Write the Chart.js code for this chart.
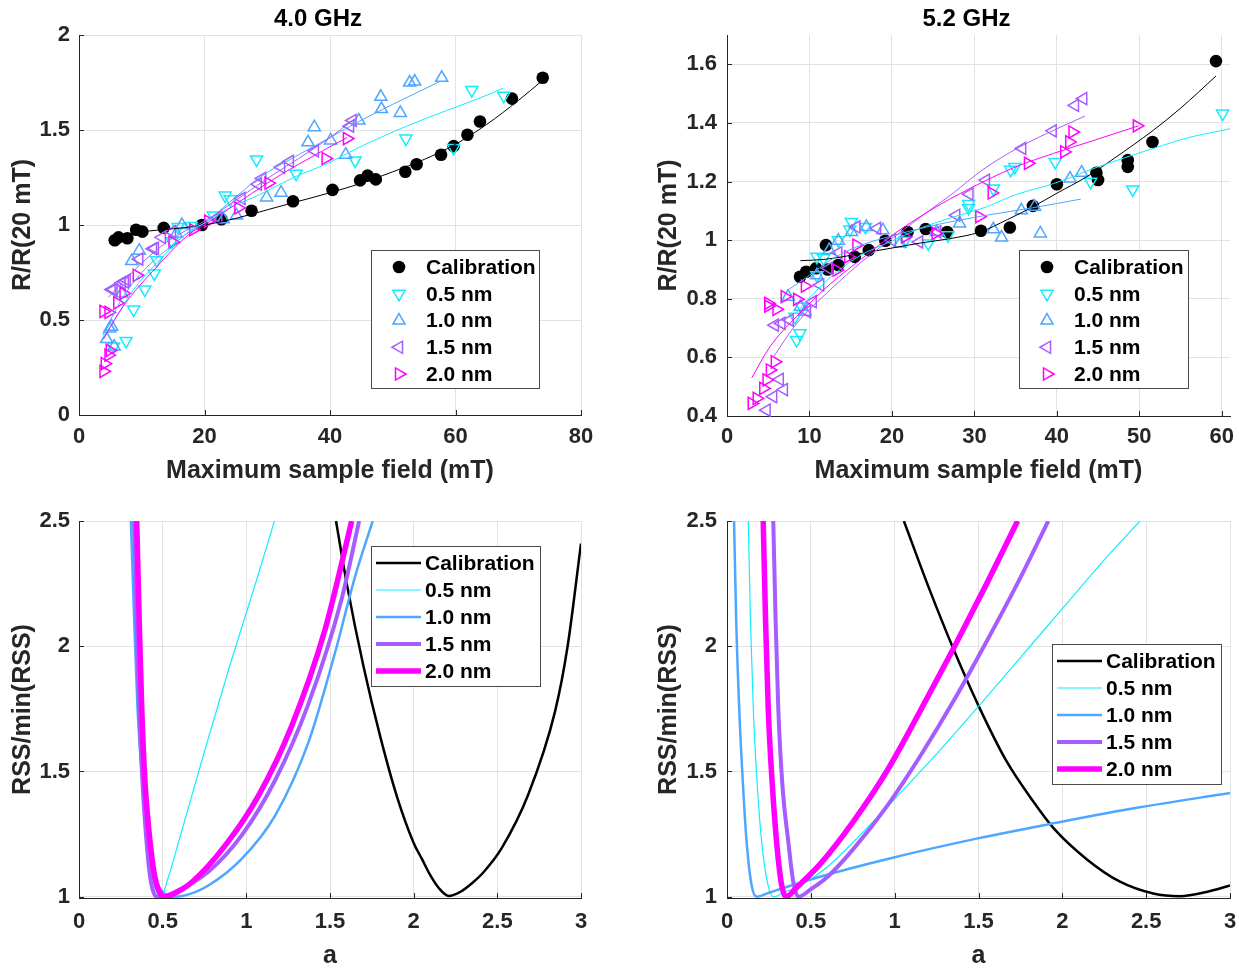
<!DOCTYPE html>
<html>
<head>
<meta charset="utf-8">
<title>R/R(20 mT) and RSS/min(RSS)</title>
<script src="https://cdn.jsdelivr.net/npm/chart.js@4.4.0/dist/chart.umd.min.js"></script>
<style>
  html, body { margin: 0; padding: 0; background: #fff; }
  #page { position: relative; width: 1239px; height: 971px; overflow: hidden; background: #fff; }
  #page canvas { position: absolute; }
</style>
</head>
<body>
<div id="page">
  <canvas id="fit40" width="620" height="490" style="left:0;top:0"></canvas>
  <canvas id="fit52" width="615" height="490" style="left:640px;top:0"></canvas>
  <canvas id="rss40" width="620" height="481" style="left:0;top:490px"></canvas>
  <canvas id="rss52" width="615" height="481" style="left:640px;top:490px"></canvas>
</div>
<script>
// --- data: [field (mT), R/R(20 mT)] ---
const seriesLabels = ['Calibration', '0.5 nm', '1.0 nm', '1.5 nm', '2.0 nm'];

// 4.0 GHz measured points
const cal40 = [[5.7,0.92],[6.3,0.935],[7.7,0.93],[9.1,0.975],[10.1,0.965],[13.5,0.985],[19.6,1.0],[22.7,1.03],[27.5,1.075],[34.1,1.125],[40.4,1.185],[44.8,1.235],[46.0,1.26],[47.3,1.24],[52.0,1.28],[53.8,1.32],[57.7,1.37],[59.7,1.415],[61.9,1.475],[63.9,1.545],[69.0,1.665],[73.9,1.775]];
const nm05_40 = [[5.5,0.36],[7.5,0.39],[8.7,0.555],[10.5,0.66],[12.0,0.745],[12.4,0.815],[14.8,0.915],[15.8,0.99],[17.9,0.995],[21.4,1.05],[23.3,1.155],[24.1,1.135],[28.3,1.345],[34.6,1.27],[44.0,1.34],[52.1,1.455],[59.7,1.405],[62.6,1.71],[67.7,1.68]];
const nm10_40 = [[4.4,0.40],[4.9,0.455],[5.2,0.465],[5.6,0.36],[6.8,0.64],[8.4,0.81],[9.6,0.865],[15.5,0.955],[16.4,1.0],[23.0,1.03],[25.1,1.05],[29.9,1.145],[32.2,1.17],[36.5,1.435],[37.5,1.515],[40.1,1.445],[42.5,1.37],[44.6,1.55],[48.1,1.675],[48.2,1.61],[51.2,1.59],[52.7,1.75],[53.5,1.755],[57.8,1.775]];
const nm15_40 = [[5.2,0.66],[5.5,0.66],[6.8,0.695],[7.3,0.70],[7.6,0.71],[9.6,0.82],[11.8,0.875],[12.1,0.877],[13.2,0.935],[14.8,0.965],[22.2,1.04],[25.9,1.14],[28.5,1.215],[29.2,1.245],[32.2,1.305],[33.6,1.335],[37.6,1.39],[43.2,1.52],[43.6,1.55]];
const nm20_40 = [[3.9,0.545],[4.7,0.54],[3.9,0.23],[4.1,0.27],[4.7,0.315],[4.9,0.34],[6.1,0.59],[7.1,0.64],[9.2,0.735],[14.9,0.91],[18.2,0.975],[20.6,1.02],[25.4,1.09],[30.2,1.22],[39.3,1.35],[42.7,1.455]];

// 4.0 GHz fitted curves
const cal40Fit = [[6,0.945],[10,0.965],[15,0.98],[20,1.0],[25,1.035],[30,1.08],[35,1.125],[40,1.17],[45,1.22],[50,1.28],[55,1.345],[60,1.425],[65,1.53],[70,1.655],[74,1.765]];
const nm05_40Fit = [[3.9,0.41],[6,0.52],[8.7,0.66],[12.4,0.8],[17.7,0.97],[20,1.01],[24,1.09],[28.8,1.16],[34.2,1.25],[40,1.33],[44.1,1.4],[52.2,1.52],[60,1.62],[65.5,1.69],[67.6,1.72]];
const nm10_40Fit = [[3.8,0.42],[5,0.5],[7,0.62],[10,0.75],[14,0.87],[17,0.95],[20,1.01],[24,1.12],[28.8,1.25],[35,1.37],[40,1.46],[44.6,1.545],[50,1.635],[57.5,1.755]];
const nm15_40Fit = [[4.7,0.62],[7,0.7],[10,0.8],[14,0.91],[17,0.97],[20,1.02],[25,1.13],[30,1.245],[35,1.35],[40,1.46],[44,1.56]];
const nm20_40Fit = [[3.9,0.40],[7,0.57],[12.4,0.78],[17.7,0.955],[20,1.0],[25,1.11],[30,1.22],[35,1.32],[42.7,1.46]];

// 5.2 GHz measured points
const cal52 = [[8.85,0.875],[9.6,0.892],[10.8,0.904],[12.0,0.983],[12.2,0.9],[13.5,0.915],[15.5,0.943],[17.2,0.966],[19.2,0.998],[21.9,1.028],[24.1,1.038],[26.7,1.028],[30.8,1.032],[34.3,1.043],[37.1,1.117],[40.0,1.191],[44.8,1.23],[45.0,1.205],[48.6,1.273],[48.6,1.25],[51.6,1.335],[59.3,1.611]];
const nm05_52 = [[8.24,0.739],[8.45,0.659],[8.85,0.682],[9.05,0.773],[10.9,0.943],[10.9,0.88],[11.7,0.938],[13.5,1.0],[14.9,1.036],[15.1,1.062],[16.8,1.045],[21.6,0.998],[24.4,0.989],[26.8,1.017],[29.3,1.11],[29.3,1.123],[32.3,1.176],[34.4,1.24],[34.9,1.25],[39.8,1.267],[44.1,1.199],[49.2,1.173],[60.1,1.432]];
const nm10_52 = [[7.4,0.807],[8.9,0.773],[9.45,0.756],[10.9,0.88],[12.4,0.966],[13.5,0.998],[15.1,1.028],[16.9,1.045],[18.9,1.034],[21.0,0.989],[25.4,1.028],[28.2,1.057],[32.3,1.037],[33.3,1.009],[35.7,1.102],[37.3,1.114],[38.0,1.023],[41.6,1.21],[43.0,1.23]];
const nm15_52 = [[4.8,0.42],[5.6,0.466],[6.4,0.525],[6.9,0.49],[5.8,0.71],[6.6,0.716],[7.6,0.727],[9.7,0.756],[10.4,0.79],[11.3,0.847],[12.3,0.904],[13.5,0.957],[15.7,1.045],[18.2,1.04],[20.0,1.0],[23.3,0.994],[25.5,1.028],[27.8,1.085],[29.4,1.157],[31.4,1.205],[35.8,1.313],[39.5,1.373],[42.2,1.46],[43.2,1.483]];
const nm20_52 = [[3.0,0.443],[3.6,0.46],[4.4,0.494],[4.8,0.523],[5.2,0.557],[5.8,0.585],[5.0,0.775],[5.0,0.784],[6.0,0.764],[7.0,0.807],[8.5,0.798],[9.45,0.843],[13.3,0.898],[14.7,0.943],[15.7,0.983],[21.6,1.011],[25.3,1.023],[30.6,1.08],[32.1,1.161],[36.5,1.262],[40.9,1.301],[41.5,1.335],[41.9,1.369],[49.7,1.39]];

// 5.2 GHz fitted curves
const cal52Fit = [[8.9,0.93],[12,0.935],[17.3,0.96],[20,0.973],[23.4,0.99],[27,1.005],[30.7,1.028],[34,1.07],[37.1,1.114],[40,1.16],[43.6,1.216],[47,1.28],[51.7,1.375],[55,1.45],[59.3,1.56]];
const nm05_52Fit = [[8.3,0.75],[12,0.86],[16,0.945],[20,0.997],[23.4,1.04],[27,1.075],[31.5,1.114],[35,1.155],[39.6,1.193],[45,1.25],[51.7,1.313],[56,1.35],[61,1.38]];
const nm10_52Fit = [[7.4,0.83],[10,0.88],[13,0.94],[16,0.98],[19.4,1.01],[25,1.05],[31.5,1.085],[37,1.11],[42.9,1.14]];
const nm15_52Fit = [[5.6,0.6],[8.45,0.716],[12.5,0.83],[16.5,0.93],[20.2,1.01],[24,1.09],[27.4,1.16],[31,1.24],[35.5,1.318],[40,1.38],[43.4,1.423]];
const nm20_52Fit = [[3,0.53],[5.2,0.636],[8.45,0.74],[12.5,0.85],[16.5,0.94],[20.2,1.02],[23.4,1.08],[27,1.14],[31.5,1.205],[35,1.25],[39.6,1.296],[45,1.345],[49.9,1.39]];

// RSS/min(RSS) against a: [a, RSS/min]
const calRss40 = [[1.536,2.5],[1.6,2.25],[1.7,1.92],[1.8,1.64],[1.9,1.4],[2.0,1.215],[2.05,1.15],[2.1,1.085],[2.15,1.035],[2.21,1.003],[2.28,1.02],[2.35,1.055],[2.42,1.1],[2.527,1.195],[2.686,1.41],[2.845,1.74],[2.92,2.0],[3.0,2.41]];
const nm05Rss40 = [[0.32,2.5],[0.34,2.1],[0.36,1.75],[0.385,1.45],[0.41,1.22],[0.44,1.07],[0.47,1.01],[0.49,1.0],[0.53,1.07],[0.6,1.23],[0.75,1.58],[0.9,1.92],[1.05,2.24],[1.168,2.5]];
const nm10Rss40 = [[0.31,2.5],[0.33,2.1],[0.35,1.75],[0.38,1.45],[0.41,1.25],[0.45,1.08],[0.5,1.02],[0.56,1.0],[0.62,1.003],[0.773,1.045],[0.972,1.151],[1.172,1.324],[1.371,1.616],[1.53,1.974],[1.65,2.279],[1.755,2.5]];
const nm15Rss40 = [[0.33,2.5],[0.345,2.1],[0.36,1.75],[0.38,1.45],[0.40,1.25],[0.425,1.08],[0.45,1.01],[0.47,1.0],[0.52,1.005],[0.574,1.019],[0.773,1.1],[0.972,1.245],[1.172,1.465],[1.371,1.77],[1.57,2.19],[1.674,2.5]];
const nm20Rss40 = [[0.345,2.5],[0.36,2.1],[0.375,1.75],[0.395,1.45],[0.42,1.25],[0.45,1.09],[0.48,1.02],[0.51,1.0],[0.56,1.01],[0.674,1.058],[0.873,1.204],[1.072,1.403],[1.271,1.682],[1.47,2.066],[1.63,2.5]];

const calRss52 = [[1.055,2.5],[1.2,2.24],[1.35,1.99],[1.509,1.75],[1.668,1.54],[1.827,1.38],[1.946,1.275],[2.145,1.15],[2.344,1.06],[2.542,1.013],[2.701,1.002],[2.86,1.019],[3.0,1.045]];
const nm05Rss52 = [[0.127,2.5],[0.14,2.1],[0.157,1.748],[0.18,1.45],[0.207,1.218],[0.24,1.06],[0.276,1.0],[0.35,1.02],[0.45,1.05],[0.6,1.12],[0.8,1.25],[1.0,1.39],[1.25,1.57],[1.5,1.76],[1.75,1.955],[2.0,2.15],[2.25,2.345],[2.463,2.5]];
const nm10Rss52 = [[0.042,2.5],[0.055,2.1],[0.073,1.748],[0.095,1.45],[0.117,1.218],[0.147,1.045],[0.177,1.0],[0.25,1.016],[0.555,1.08],[0.952,1.15],[1.509,1.235],[1.946,1.293],[2.443,1.355],[3.0,1.414]];
const nm15Rss52 = [[0.276,2.5],[0.29,2.1],[0.306,1.748],[0.33,1.45],[0.366,1.218],[0.395,1.06],[0.425,1.0],[0.5,1.03],[0.6,1.08],[0.753,1.19],[0.952,1.36],[1.151,1.56],[1.35,1.78],[1.549,2.02],[1.747,2.27],[1.916,2.5]];
const nm20Rss52 = [[0.216,2.5],[0.23,2.1],[0.246,1.748],[0.27,1.45],[0.296,1.218],[0.325,1.05],[0.352,1.0],[0.42,1.04],[0.555,1.13],[0.753,1.3],[0.952,1.5],[1.151,1.74],[1.35,1.99],[1.549,2.25],[1.733,2.5]];

// tick labels
const fieldTicks40 = [0, 20, 40, 60, 80];
const ratioTicks40 = [0, 0.5, 1, 1.5, 2];
const fieldTicks52 = [0, 10, 20, 30, 40, 50, 60];
const ratioTicks52 = [0.4, 0.6, 0.8, 1, 1.2, 1.4, 1.6];
const aTicks = [0, 0.5, 1, 1.5, 2, 2.5, 3];
const rssTicks = [1, 1.5, 2, 2.5];

// --- styling ---
const FONT = '"Liberation Sans", Arial, Helvetica, sans-serif';
const INK = '#262626';
const GRID = '#e2e2e2';
const COLORS = ['#000000', '#12ecff', '#4da6ff', '#a65cff', '#ff00ff'];
const MARKERS = [
    { style: 'circle', rot: 0, r: 6.3, filled: true },
    { style: 'triangle', rot: 180, r: 7 },
    { style: 'triangle', rot: 0, r: 7 },
    { style: 'triangle', rot: 270, r: 7 },
    { style: 'triangle', rot: 90, r: 7 }
];
const RSS_WIDTHS = [2.5, 1.2, 2.5, 4, 5.5];

Chart.defaults.font.family = FONT;
Chart.defaults.font.weight = 'bold';
Chart.defaults.color = INK;

const xy = pts => pts.map(([x, y]) => ({ x, y }));

function markerSet(points, i) {
    const m = MARKERS[i];
    return {
        label: seriesLabels[i],
        data: xy(points),
        showLine: false,
        clip: false,
        pointStyle: m.style,
        pointRotation: m.rot,
        pointRadius: m.r,
        pointHoverRadius: m.r,
        pointBackgroundColor: m.filled ? COLORS[i] : 'rgba(0,0,0,0)',
        pointBorderColor: COLORS[i],
        pointBorderWidth: m.filled ? 0 : 1.5,
        order: 20 - i
    };
}

function fitSet(points, i) {
    return {
        label: seriesLabels[i] + ' fit',
        data: xy(points),
        showLine: true,
        borderColor: COLORS[i],
        borderWidth: 1,
        pointRadius: 0,
        cubicInterpolationMode: 'monotone',
        order: 10 - i
    };
}

function rssSet(points, i) {
    return {
        label: seriesLabels[i],
        data: xy(points),
        showLine: true,
        borderColor: COLORS[i],
        borderWidth: RSS_WIDTHS[i],
        pointRadius: 0,
        cubicInterpolationMode: 'monotone',
        order: 10 - i
    };
}

function drawMarker(ctx, i, x, y) {
    const m = MARKERS[i];
    ctx.beginPath();
    if (m.filled) {
        ctx.arc(x, y, m.r, 0, Math.PI * 2);
        ctx.fillStyle = COLORS[i];
        ctx.fill();
        return;
    }
    let rad = m.rot * Math.PI / 180;
    for (let k = 0; k < 3; k++) {
        const px = x + Math.sin(rad) * m.r, py = y - Math.cos(rad) * m.r;
        if (k === 0) ctx.moveTo(px, py); else ctx.lineTo(px, py);
        rad += Math.PI * 2 / 3;
    }
    ctx.closePath();
    ctx.strokeStyle = COLORS[i];
    ctx.lineWidth = 1.5;
    ctx.stroke();
}

// legend drawn inside the axes, matlab style
const boxLegend = {
    id: 'boxLegend',
    afterDatasetsDraw(chart, args, opts) {
        const ctx = chart.ctx;
        const [x1, y1, x2, y2] = opts.box;
        ctx.save();
        ctx.fillStyle = '#ffffff';
        ctx.fillRect(x1, y1, x2 - x1, y2 - y1);
        ctx.strokeStyle = '#4a4a4a';
        ctx.lineWidth = 1;
        ctx.strokeRect(x1 + 0.5, y1 + 0.5, x2 - x1, y2 - y1);
        ctx.font = 'bold 21px ' + FONT;
        ctx.textBaseline = 'middle';
        seriesLabels.forEach((label, i) => {
            const y = y1 + opts.first + i * opts.step;
            if (opts.kind === 'line') {
                ctx.beginPath();
                ctx.moveTo(x1 + 5, y);
                ctx.lineTo(x1 + 50, y);
                ctx.strokeStyle = COLORS[i];
                ctx.lineWidth = RSS_WIDTHS[i];
                ctx.stroke();
            } else {
                drawMarker(ctx, i, x1 + 28, y);
            }
            ctx.fillStyle = '#000000';
            ctx.fillText(label, x1 + opts.textX, y + 1);
        });
        ctx.restore();
    }
};

// panel title, centred a little left of the plot box like the original
const panelTitle = {
    id: 'panelTitle',
    afterDraw(chart, args, opts) {
        if (!opts.text) return;
        const { ctx, chartArea: a } = chart;
        ctx.save();
        ctx.font = 'bold 24px ' + FONT;
        ctx.fillStyle = '#000000';
        ctx.textAlign = 'center';
        ctx.textBaseline = 'middle';
        ctx.fillText(opts.text, (a.left + a.right) / 2 + opts.dx, opts.y);
        ctx.restore();
    }
};

// small inward tick marks like the original axes
const inwardTicks = {
    id: 'inwardTicks',
    beforeDatasetsDraw(chart) {
        const { ctx, chartArea: a, scales: { x, y } } = chart;
        ctx.save();
        ctx.strokeStyle = INK;
        ctx.lineWidth = 1;
        ctx.beginPath();
        x.ticks.forEach(t => {
            const px = Math.round(x.getPixelForValue(t.value)) + 0.5;
            ctx.moveTo(px, a.bottom);
            ctx.lineTo(px, a.bottom - 5);
        });
        y.ticks.forEach(t => {
            const py = Math.round(y.getPixelForValue(t.value)) + 0.5;
            ctx.moveTo(a.left, py);
            ctx.lineTo(a.left + 5, py);
        });
        ctx.stroke();
        ctx.restore();
    }
};

function axis(o) {
    return {
        type: 'linear',
        min: o.min,
        max: o.max,
        afterBuildTicks: s => { s.ticks = o.ticks.map(v => ({ value: v })); },
        afterFit: s => {
            if (o.width) s.width = o.width;
            if (o.height) s.height = o.height;
        },
        grid: { color: GRID, drawTicks: false },
        border: { color: INK, width: 1 },
        ticks: {
            font: { family: FONT, size: 22, weight: 'bold' },
            color: INK,
            padding: o.pad,
            autoSkip: false,
            maxRotation: 0,
            callback: v => String(v)
        },
        title: {
            display: true,
            text: o.title,
            font: { family: FONT, size: 25, weight: 'bold' },
            color: INK,
            padding: o.titlePad
        }
    };
}

function baseOptions(o) {
    return {
        responsive: false,
        animation: false,
        events: [],
        layout: { padding: o.padding },
        plugins: {
            legend: { display: false },
            tooltip: { enabled: false },
            title: { display: false },
            panelTitle: { text: o.title || '', dx: -12, y: 19 },
            boxLegend: o.legend
        },
        scales: { x: axis(o.x), y: axis(o.y) }
    };
}

const chartPlugins = [inwardTicks, boxLegend, panelTitle];

// --- 4.0 GHz, field dependence ---
new Chart(document.getElementById('fit40'), {
    type: 'scatter',
    data: {
        datasets: [
            markerSet(cal40, 0), markerSet(nm05_40, 1), markerSet(nm10_40, 2), markerSet(nm15_40, 3), markerSet(nm20_40, 4),
            fitSet(cal40Fit, 0), fitSet(nm05_40Fit, 1), fitSet(nm10_40Fit, 2), fitSet(nm15_40Fit, 3), fitSet(nm20_40Fit, 4)
        ]
    },
    options: baseOptions({
        title: '4.0 GHz',
        padding: { left: 0, right: 39, top: 35, bottom: 0 },
        legend: { box: [371, 250, 539, 388], first: 17, step: 26.75, textX: 55, kind: 'marker' },
        x: { min: 0, max: 80, ticks: fieldTicks40, height: 75, pad: 9, title: 'Maximum sample field (mT)', titlePad: { top: 0, bottom: 4 } },
        y: { min: 0, max: 2, ticks: ratioTicks40, width: 79, pad: 9, title: 'R/R(20 mT)', titlePad: { top: 8, bottom: 0 } }
    }),
    plugins: chartPlugins
});

// --- 5.2 GHz, field dependence ---
new Chart(document.getElementById('fit52'), {
    type: 'scatter',
    data: {
        datasets: [
            markerSet(cal52, 0), markerSet(nm05_52, 1), markerSet(nm10_52, 2), markerSet(nm15_52, 3), markerSet(nm20_52, 4),
            fitSet(cal52Fit, 0), fitSet(nm05_52Fit, 1), fitSet(nm10_52Fit, 2), fitSet(nm15_52Fit, 3), fitSet(nm20_52Fit, 4)
        ]
    },
    options: baseOptions({
        title: '5.2 GHz',
        padding: { left: 0, right: 25, top: 35, bottom: 0 },
        legend: { box: [379, 250, 548, 388], first: 17, step: 26.75, textX: 55, kind: 'marker' },
        x: { min: 0, max: 61, ticks: fieldTicks52, height: 74, pad: 8, title: 'Maximum sample field (mT)', titlePad: { top: 0, bottom: 4 } },
        y: { min: 0.4, max: 1.7, ticks: ratioTicks52, width: 87, pad: 10, title: 'R/R(20 mT)', titlePad: { top: 14, bottom: 0 } }
    }),
    plugins: chartPlugins
});

// --- 4.0 GHz, RSS vs a ---
new Chart(document.getElementById('rss40'), {
    type: 'scatter',
    data: {
        datasets: [rssSet(calRss40, 0), rssSet(nm05Rss40, 1), rssSet(nm10Rss40, 2), rssSet(nm15Rss40, 3), rssSet(nm20Rss40, 4)]
    },
    options: baseOptions({
        padding: { left: 0, right: 39, top: 31, bottom: 0 },
        legend: { box: [371, 56, 540, 196], first: 17, step: 27, textX: 54, kind: 'line' },
        x: { min: 0, max: 3, ticks: aTicks, height: 73, pad: 11, title: 'a', titlePad: { top: 0, bottom: 0 } },
        y: { min: 0.995, max: 2.5, ticks: rssTicks, width: 79, pad: 9, title: 'RSS/min(RSS)', titlePad: { top: 8, bottom: 0 } }
    }),
    plugins: chartPlugins
});

// --- 5.2 GHz, RSS vs a ---
new Chart(document.getElementById('rss52'), {
    type: 'scatter',
    data: {
        datasets: [rssSet(calRss52, 0), rssSet(nm05Rss52, 1), rssSet(nm10Rss52, 2), rssSet(nm15Rss52, 3), rssSet(nm20Rss52, 4)]
    },
    options: baseOptions({
        padding: { left: 0, right: 25, top: 31, bottom: 0 },
        legend: { box: [412, 154, 581, 294], first: 17, step: 27, textX: 54, kind: 'line' },
        x: { min: 0, max: 3, ticks: aTicks, height: 73, pad: 11, title: 'a', titlePad: { top: 0, bottom: 0 } },
        y: { min: 0.995, max: 2.5, ticks: rssTicks, width: 87, pad: 10, title: 'RSS/min(RSS)', titlePad: { top: 14, bottom: 0 } }
    }),
    plugins: chartPlugins
});
</script>
</body>
</html>
